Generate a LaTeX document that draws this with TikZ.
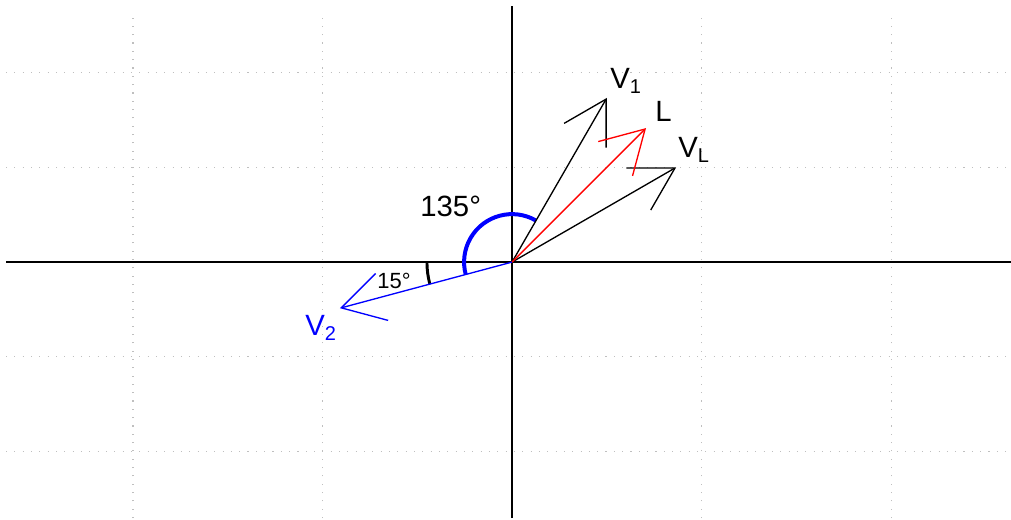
\documentclass[tikz,border=0pt]{standalone}
\usepackage{fontspec}
\setmainfont{Liberation Sans}
\usetikzlibrary{arrows.meta}
\newcommand{\vsub}[2]{#1\raisebox{-4pt}{\fontsize{15}{16}\selectfont #2}}
\begin{document}
\begin{tikzpicture}[x=5cm, y=5cm, >={Straight Barb[angle=60:1.28cm]},
    gridline/.style={gray!50, line width=0.8pt, dash pattern=on 0.8pt off 5.45pt},
    vec/.style={->, line width=1pt},
    lbl/.style={anchor=base west, inner sep=0pt, font=\fontsize{22}{26}\selectfont}]
  \useasboundingbox (-2.702,-1.361) rectangle (2.633,1.383);
  % grid
  \foreach \x in {-2,-1,1,2}
    \draw[gridline] (\x,-1.351) -- (\x,1.319);
  \foreach \y in {-1,-0.5,0.5,1}
    \draw[gridline] (-2.67,\y) -- (2.633,\y);
  % axes
  \draw[line width=1.2pt] (-2.67,0) -- (2.633,0);
  \draw[line width=1.2pt] (0,-1.351) -- (0,1.351);
  \coordinate (O) at (0,0);
  \coordinate (V1) at (60:1);
  \coordinate (L) at (45:1);
  \coordinate (VL) at (30:1);
  \coordinate (V2) at (195:0.94);
  % angles
  \draw[blue, line width=3pt] (60:0.253) arc[start angle=60, end angle=195, radius=0.253];
  \draw[line width=2.2pt] (180:0.449) arc[start angle=180, end angle=195, radius=0.449];
  \node[lbl] (a135) at (-0.485,0.243) {135°};
  \node[lbl, font=\fontsize{16.5}{20}\selectfont] (a15) at (-0.712,-0.142) {15°};
  % vectors
  \draw[vec] (O) -- (V1);
  \draw[vec] (O) -- (VL);
  \draw[vec, red] (O) -- (L);
  \draw[vec, blue] (O) -- (V2);
  \node[lbl] (lbV1) at (0.517,0.918) {\vsub{V}{1}};
  \node[lbl] (lbL) at (0.755,0.744) {L};
  \node[lbl] (lbVL) at (0.876,0.554) {\vsub{V}{L}};
  \node[lbl, blue] (lbV2) at (-1.092,-0.385) {\vsub{V}{2}};
\end{tikzpicture}
\end{document}
